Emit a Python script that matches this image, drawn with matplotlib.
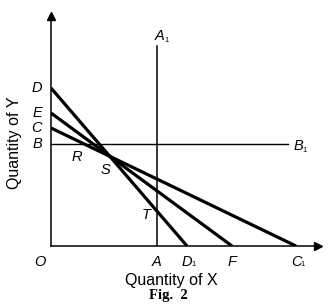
import matplotlib
matplotlib.use("Agg")
import matplotlib.pyplot as plt

# budget line intercepts (y-intercept on Y axis, x-intercept on X axis)
line_names = ["D", "E", "C"]
y_intercepts = [158, 133, 118]
x_intercepts = [136, 181, 245]
x_names = ["D", "F", "C"]
x_subs = ["1", "", "1"]

b_level = 102      # horizontal line B-B1
b_end = 237
a_pos = 106        # vertical line A-A1
a_top = 200
y_axis_top = 234
x_axis_end = 271

fig = plt.figure(figsize=(3.36, 3.07), dpi=100)
ax = fig.add_axes([51 / 336, 61 / 307, 285 / 336, 246 / 307])
ax.set_xlim(0, 285)
ax.set_ylim(0, 246)
ax.axis("off")

lab = dict(family="Liberation Sans", style="italic", fontsize=10.5, color="black")
sub = dict(family="Liberation Sans", fontsize=5.5, color="black")

# axes with arrow heads
ax.plot([0, 0], [0, y_axis_top - 6], color="black", lw=1.1, clip_on=False)
ax.plot([0, x_axis_end - 6], [0, 0], color="black", lw=1.1, clip_on=False)
ax.plot(0, y_axis_top - 4, marker="^", color="black", ms=6, clip_on=False)
ax.plot(x_axis_end - 4, 0, marker=">", color="black", ms=6, clip_on=False)

# B-B1 and A-A1
ax.plot([0, b_end], [b_level, b_level], color="black", lw=1.0)
ax.plot([a_pos, a_pos], [0, a_top], color="black", lw=1.1)

# budget lines
for yi, xi in zip(y_intercepts, x_intercepts):
    ax.plot([0, xi], [yi, 0], color="black", lw=2.3, solid_capstyle="butt")

# labels on Y axis
for name, yi in zip(line_names + ["B"], y_intercepts + [b_level]):
    ax.text(-14, yi, name, ha="center", va="center", **lab)

# labels on X axis
ax.text(-11, -16, "O", ha="center", va="center", **lab)
ax.text(a_pos, -16, "A", ha="center", va="center", **lab)
for name, s, xi in zip(x_names, x_subs, x_intercepts):
    ax.text(xi, -16, name, ha="center", va="center", **lab)
    if s:
        ax.text(xi + 4.5, -19, s, ha="left", va="center", **sub)

ax.text(a_pos + 3, a_top + 10, "A", ha="center", va="center", **lab)
ax.text(a_pos + 7.5, a_top + 6, "1", ha="left", va="center", **sub)
ax.text(b_end + 10, b_level - 2, "B", ha="center", va="center", **lab)
ax.text(b_end + 14.5, b_level - 6, "1", ha="left", va="center", **sub)

ax.text(26, 89, "R", ha="center", va="center", **lab)
ax.text(54, 76, "S", ha="center", va="center", **lab)
ax.text(95, 31, "T", ha="center", va="center", **lab)

ax.text(120, -34, "Quantity of X", ha="center", va="center",
        family="Liberation Sans", fontsize=11.5)
ax.text(-36, 103, "Quantity of Y", ha="center", va="center", rotation=90,
        family="Liberation Sans", fontsize=11.5)
fig.text(168 / 336, 1 - 296 / 307, "Fig.  2", ha="center", va="center",
         family="Liberation Serif", weight="bold", fontsize=10.5)

fig.savefig("out.png", dpi=100)
